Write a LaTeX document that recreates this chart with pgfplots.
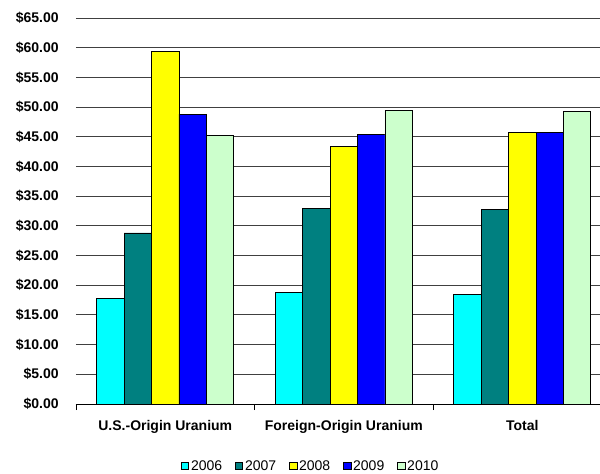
\documentclass[border=0pt]{standalone}
\usepackage{fontspec}
\setmainfont{Liberation Sans}
\usepackage{pgfplots}
\pgfplotsset{compat=1.18}
\usetikzlibrary{calc}

\definecolor{c2006}{HTML}{00FFFF}
\definecolor{c2007}{HTML}{008080}
\definecolor{c2008}{HTML}{FFFF00}
\definecolor{c2009}{HTML}{0000FF}
\definecolor{c2010}{HTML}{CCFFCC}

\begin{document}
\begin{tikzpicture}
\begin{axis}[
	scale only axis,
	width=524pt,
	height=386pt,
	ybar=0pt,
	bar width=27.4pt,
	xmin=-0.5, xmax=2.435,
	ymin=0, ymax=65,
	ytick={0,5,...,65},
	xtick={0,1,2},
	xticklabels={U.S.-Origin Uranium, Foreign-Origin Uranium, Total},
	minor xtick={-0.5,0.5,1.5},
	axis x line=bottom,
	axis y line=left,
	y axis line style={draw=none},
	ymajorgrids,
	grid style={black!75, line width=1pt},
	major x tick style={draw=none},
	ytick style={draw=none},
	minor x tick style={black, line width=0.8pt},
	minor tick length=6pt,
	tick align=outside,
	x axis line style={black, line width=1pt, -},
	/pgf/number format/assume math mode=true,
	yticklabel={\$\pgfmathprintnumber[fixed,fixed zerofill,precision=2]{\tick}},
	y tick label style={font=\fontsize{14}{16}\selectfont\bfseries, xshift=-9.5pt},
	x tick label style={font=\fontsize{14}{16}\selectfont\bfseries, yshift=-9pt},
	every axis plot/.append style={draw=black, line width=0.8pt},
	legend style={draw=none, fill=none, legend columns=5,
		font=\fontsize{14}{16}\selectfont,
		at={(rel axis cs:0.448,0)}, anchor=center, yshift=-62pt,
		/tikz/every even column/.append style={column sep=11pt}},
	legend image code/.code={\draw[#1, line width=0.6pt] (0pt,-3.6pt) rectangle (7.3pt,3.6pt);},
]
\addplot[fill=c2006] coordinates {(0,17.8) (1,18.8) (2,18.5)};
\addplot[fill=c2007] coordinates {(0,28.8) (1,33.0) (2,32.8)};
\addplot[fill=c2008] coordinates {(0,59.4) (1,43.4) (2,45.7)};
\addplot[fill=c2009] coordinates {(0,48.8) (1,45.4) (2,45.7)};
\addplot[fill=c2010] coordinates {(0,45.2) (1,49.5) (2,49.2)};
\legend{2006,2007,2008,2009,2010}
\coordinate (bl) at (rel axis cs:0,0);
\coordinate (tr) at (rel axis cs:1,1);
\end{axis}
\pgfresetboundingbox
\path ($(bl)+(-76pt,-70pt)$) rectangle ($(tr)+(0pt,18pt)$);
\end{tikzpicture}
\end{document}
